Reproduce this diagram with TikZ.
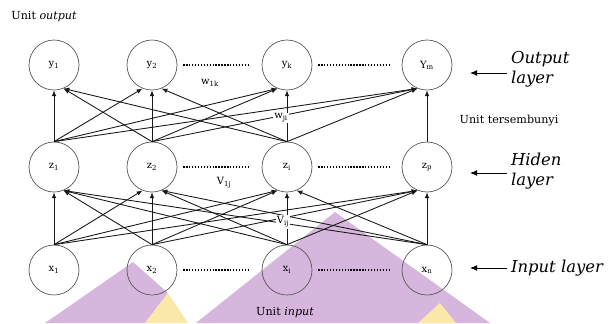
\documentclass[tikz,border=0pt]{standalone}
\usepackage{fontspec}
\setmainfont{DejaVu Serif}
\usetikzlibrary{arrows.meta}

\definecolor{wmpurple}{RGB}{214,182,220}
\definecolor{wmyellow}{RGB}{250,232,170}

\tikzset{
  unit/.style={circle,draw=gray!70!black,line width=0.6pt,minimum size=1.5cm,
    inner sep=0pt,font=\fontsize{8.5}{9}\selectfont},
  link/.style={-{Latex[length=5pt,width=4pt]},line width=0.75pt,black!90},
  dotrow/.style={line width=1.3pt,dash pattern=on 1.2pt off 1.3pt,
    shorten <=5pt,shorten >=10pt},
  weight/.style={fill=white,inner sep=1pt,font=\fontsize{8.5}{9}\selectfont},
  layername/.style={font=\fontsize{14}{17}\selectfont\itshape,align=left,anchor=west},
  note/.style={font=\fontsize{9.5}{11}\selectfont,inner sep=1pt},
  pointer/.style={-{Latex[length=6pt,width=5pt]},line width=0.8pt},
}

\begin{document}
\begin{tikzpicture}[x=0.03cm,y=-0.03cm]
\useasboundingbox (0,0) rectangle (609,323);

% logo in the background
\fill[wmpurple] (45,323) -- (133,262) -- (168,293) -- (145,323) -- cycle;
\fill[wmyellow] (145,323) -- (168,293) -- (188,323) -- cycle;
\fill[wmpurple] (196,323) -- (335,212) -- (490,323) -- cycle;
\fill[wmyellow] (418,323) -- (440,303) -- (456,323) -- cycle;

% output layer
\node[unit] (y1) at (54,65) {y\textsubscript{1}};
\node[unit] (y2) at (152,65) {y\textsubscript{2}};
\node[unit] (yk) at (287,65) {y\textsubscript{k}};
\node[unit] (ym) at (427,65) {Y\textsubscript{m}};

% hidden layer
\node[unit] (z1) at (54,167) {z\textsubscript{1}};
\node[unit] (z2) at (152,167) {z\textsubscript{2}};
\node[unit] (zi) at (287,167) {z\textsubscript{i}};
\node[unit] (zp) at (427,167) {z\textsubscript{p}};

% input layer
\node[unit] (x1) at (54,270) {x\textsubscript{1}};
\node[unit] (x2) at (152,270) {x\textsubscript{2}};
\node[unit] (xi) at (287,270) {x\textsubscript{i}};
\node[unit] (xn) at (427,270) {x\textsubscript{n}};

% dots between the units
\draw[dotrow] (y2) -- (yk);
\draw[dotrow] (yk) -- (ym);
\draw[dotrow] (z2) -- (zi);
\draw[dotrow] (zi) -- (zp);
\draw[dotrow] (x2) -- (xi);
\draw[dotrow] (xi) -- (xn);

% weights hidden -> output, tips spread under each unit
\foreach \h [count=\r] in {z1,z2,zi}
  \foreach \o [count=\c] in {y1,y2,yk,ym} {
    \pgfmathtruncatemacro\ang{\r<\c ? -112 : (\r>\c ? -68 : -90)}
    \draw[link] (\h.north) -- (\o.\ang);
  }
\draw[link] (zp) -- (ym);

% weights input -> hidden
\foreach \i [count=\r] in {x1,x2,xi,xn}
  \foreach \h [count=\c] in {z1,z2,zi,zp} {
    \pgfmathtruncatemacro\ang{\r<\c ? -112 : (\r>\c ? -68 : -90)}
    \draw[link] (\i.north) -- (\h.\ang);
  }

\node[weight] (w1k) at (210,83) {w\textsubscript{1k}};
\node[weight] (wji) at (281,118) {w\textsubscript{ji}};
\node[weight] (v1j) at (224,183) {V\textsubscript{1j}};
\node[weight] (vij) at (283,222) {V\textsubscript{ij}};

% texts
\node[note,anchor=west] (outunit) at (10,17) {Unit \textit{output}};
\node[note] (hidunit) at (509,121) {Unit tersembunyi};
\node[note] (inunit) at (285,313) {Unit \textit{input}};

\node[layername] (outname) at (507,69) {Output\\layer};
\node[layername] (hidname) at (507,171) {Hiden\\layer};
\node[layername] (inname) at (507,268) {Input layer};

\coordinate (outtip) at (470,73);
\coordinate (hidtip) at (470,173);
\coordinate (intip) at (470,268);
\draw[pointer] (outname.west |- outtip) -- (outtip);
\draw[pointer] (hidname.west |- hidtip) -- (hidtip);
\draw[pointer] (inname.west |- intip) -- (intip);
\end{tikzpicture}
\end{document}
